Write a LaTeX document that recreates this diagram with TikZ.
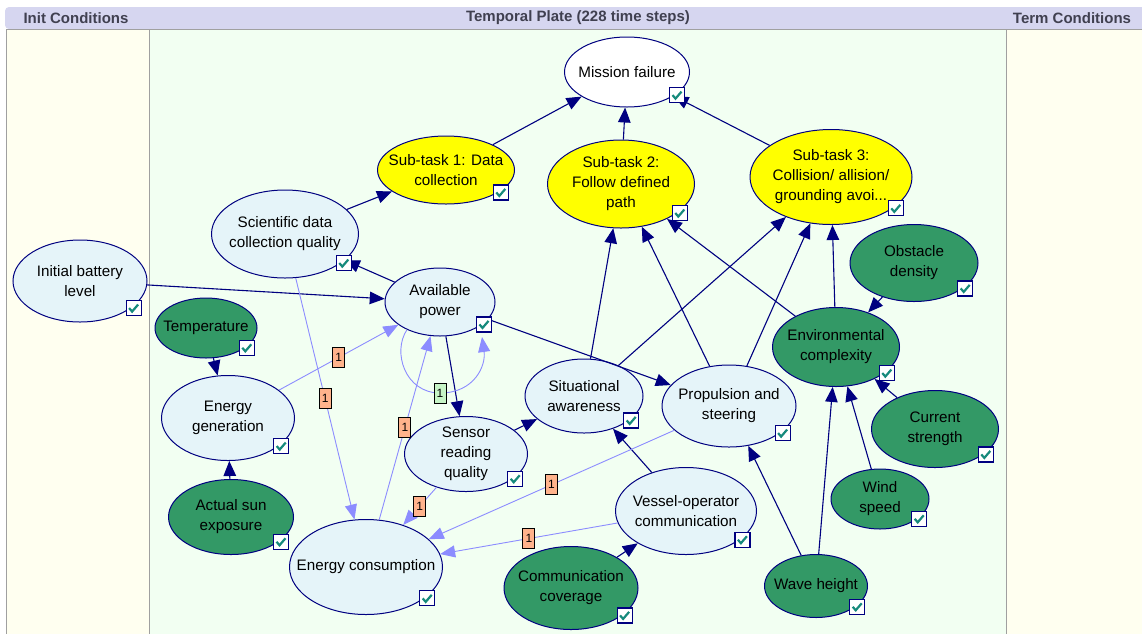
\documentclass[tikz,border=0pt]{standalone}
\usepackage{fontspec}
\setmainfont{Liberation Sans}
\usetikzlibrary{arrows.meta,shapes.geometric}
\definecolor{navy}{RGB}{0,0,128}
\definecolor{lightfill}{HTML}{E5F4F9}
\definecolor{grn}{HTML}{339966}
\definecolor{yel}{HTML}{FFFF00}
\definecolor{mint}{HTML}{F2FFF2}
\definecolor{ivory}{HTML}{FFFFF0}
\definecolor{hdrbg}{HTML}{D6D6F0}
\definecolor{hdrtext}{HTML}{404050}
\definecolor{arcblue}{HTML}{8C8CFF}
\definecolor{lblorange}{HTML}{FFB38C}
\definecolor{lblgreen}{HTML}{C6F5C6}
\definecolor{checkteal}{HTML}{168A7C}
\definecolor{panelline}{HTML}{A0A0A0}
\tikzset{
  bn/.style={ellipse, draw=navy, line width=1pt, inner sep=0pt},
  lightn/.style={bn, fill=lightfill},
  yeln/.style={bn, fill=yel},
  grnn/.style={bn, fill=grn},
  whn/.style={bn, fill=white},
  btext/.style={align=center, inner sep=0pt, text=black, font=\fontsize{15.2}{20}\selectfont},
  hdr/.style={text=hdrtext, font=\bfseries\fontsize{15}{15}\selectfont, inner sep=0pt},
  link/.style={draw=navy, line width=1.1pt, -{Triangle[length=15pt,width=12.5pt]}},
  tarc/.style={draw=arcblue, line width=0.9pt, -{Triangle[length=15pt,width=12pt]}},
  lbl/.style={draw=black, fill=lblorange, font=\fontsize{12}{12}\selectfont, inner sep=0pt, minimum width=12pt, minimum height=20pt, line width=0.9pt},
  lblg/.style={lbl, fill=lblgreen},
  chkbox/.style={draw=navy, fill=white, line width=1.2pt},
  chkmark/.style={draw=checkteal, line width=2.2pt},
}
\newcommand\bnode[7]{%
  \node[#6, minimum width=#4pt, minimum height=#5pt] (#1) at (#2,#3) {};
  \node[btext] at (#1.center) {#7};
  \coordinate (#1-chk) at (#2+0.4*#4, #3+0.33*#5);
}
\newcommand\chk[1]{%
  \begin{scope}[shift={(#1)}]
    \draw[chkbox] (-7.5,-7.5) rectangle (7.5,7.5);
    \draw[chkmark] (-4.5,0) -- (-1.5,3.5) -- (4.5,-3.5);
  \end{scope}
}
\begin{document}
\begin{tikzpicture}[x=1pt,y=-1pt]
\useasboundingbox (0,0) rectangle (1142,633);
% panels
\fill[white] (0,0) rectangle (1142,633);
\fill[hdrbg, rounded corners=4pt] (5,7) rectangle (1160,29);
\filldraw[fill=ivory, draw=panelline, line width=0.8pt] (6,29) rectangle (149,640);
\filldraw[fill=mint, draw=panelline, line width=0.8pt] (149,29) rectangle (1006,640);
\filldraw[fill=ivory, draw=panelline, line width=0.8pt] (1006,29) rectangle (1160,640);
\node[hdr] (h1) at (76,18) {Init Conditions};
\node[hdr] (h2) at (578,18) {Temporal Plate (228 time steps)};
\node[hdr] (h3) at (1072,18) {Term Conditions};
% nodes
\bnode{mf}{627}{72}{125}{70}{whn}{Mission failure}
\bnode{st1}{446}{170}{137}{68}{yeln}{Sub-task 1: Data\\collection}
\bnode{st2}{621}{184}{147}{88}{yeln}{Sub-task 2:\\Follow defined\\path}
\bnode{st3}{831}{177}{162}{95}{yeln}{Sub-task 3:\\Collision/ allision/\\grounding avoi...}
\bnode{sci}{285}{234}{147}{88}{lightn}{Scientific data\\collection quality}
\bnode{ibl}{80}{281}{134}{82}{lightn}{Initial battery\\level}
\bnode{ap}{440}{302}{110}{68}{lightn}{Available\\power}
\bnode{temp}{206}{328}{102}{60}{grnn}{Temperature}
\bnode{eg}{228}{418}{133}{85}{lightn}{Energy\\generation}
\bnode{sun}{231}{517}{125}{75}{grnn}{Actual sun\\exposure}
\bnode{srq}{466}{454}{123}{75}{lightn}{Sensor\\reading\\quality}
\bnode{sa}{584}{396}{118}{74}{lightn}{Situational\\awareness}
\bnode{ps}{729}{406}{134}{82}{lightn}{Propulsion and\\steering}
\bnode{voc}{686}{511}{141}{87}{lightn}{Vessel-operator\\communication}
\bnode{ec}{366}{567}{153}{95}{lightn}{Energy consumption}
\bnode{cc}{571}{588}{134}{83}{grnn}{Communication\\coverage}
\bnode{wh}{816}{586}{103}{63}{grnn}{Wave height}
\bnode{ws}{880}{499}{98}{60}{grnn}{Wind\\speed}
\bnode{cs}{935}{429}{127}{77}{grnn}{Current\\strength}
\bnode{env}{836}{347}{127}{79}{grnn}{Environmental\\complexity}
\bnode{od}{914}{263}{128}{77}{grnn}{Obstacle\\density}
% causal links
\draw[link] (st1) -- (mf);
\draw[link] (st2) -- (mf);
\draw[link] (st3) -- (mf);
\draw[link] (sci) -- (st1);
\draw[link] (ap) -- (sci);
\draw[link] (ibl) -- (ap);
\draw[link] (ap) -- (srq);
\draw[link] (ap) -- (ps);
\draw[link] (temp) -- (eg);
\draw[link] (sun) -- (eg);
\draw[link] (srq) -- (sa);
\draw[link] (sa) -- (st2);
\draw[link] (sa) -- (st3);
\draw[link] (ps) -- (st2);
\draw[link] (ps) -- (st3);
\draw[link] (env) -- (st2);
\draw[link] (env) -- (st3);
\draw[link] (od) -- (env);
\draw[link] (cs) -- (env);
\draw[link] (ws) -- (env);
\draw[link] (wh) -- (env);
\draw[link] (wh) -- (ps);
\draw[link] (voc) -- (sa);
\draw[link] (cc) -- (voc);
% temporal arcs
\draw[tarc] (eg) -- node[lbl] (l1) {1} (ap);
\draw[tarc] (sci) -- node[lbl] (l2) {1} (ec);
\draw[tarc] (ec) -- node[lbl] (l3) {1} (ap);
\draw[tarc] (srq) -- node[lbl] (l4) {1} (ec);
\draw[tarc] (ps) -- node[lbl] (l5) {1} (ec);
\draw[tarc] (voc) -- node[lbl] (l6) {1} (ec);
\coordinate (aploop) at (482,337);
\draw[tarc] (ap.-140) .. controls (392,352) and (405,393) .. (440,393) node[lblg] (l7) {1} .. controls (475,393) and (486,365) .. (aploop);
% check boxes
\foreach \n in {mf,st1,st2,st3,sci,ibl,ap,temp,eg,sun,srq,sa,ps,voc,ec,cc,wh,ws,cs,env,od}{\chk{\n-chk}}
\end{tikzpicture}
\end{document}
